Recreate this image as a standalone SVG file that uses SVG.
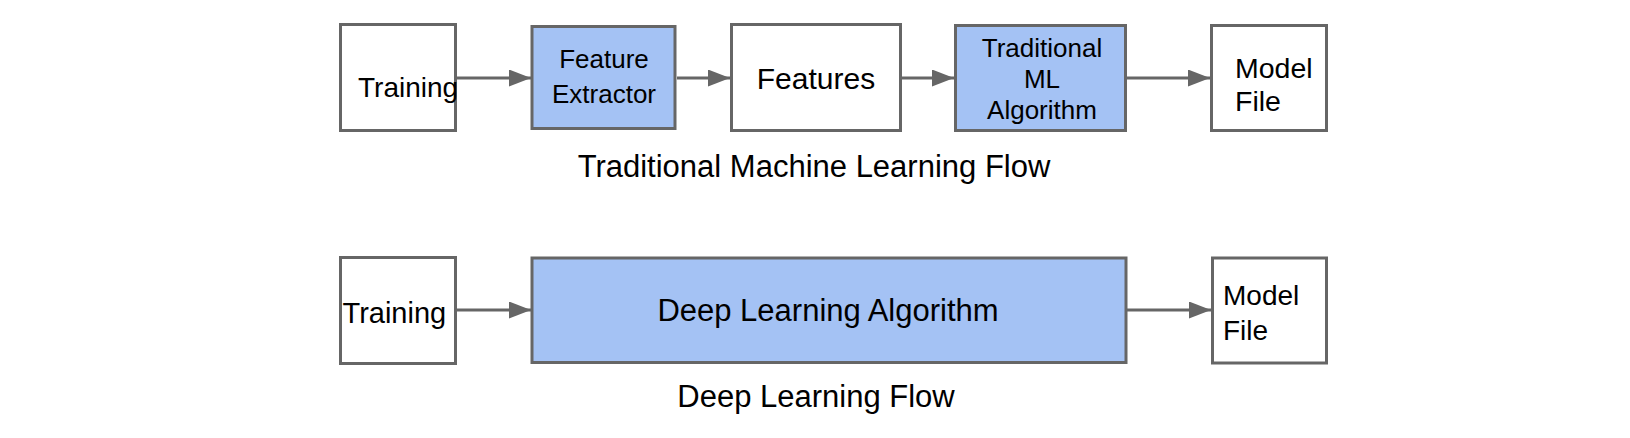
<svg xmlns="http://www.w3.org/2000/svg" width="1630" height="438" viewBox="0 0 1630 438">
<style>
.box{fill:#ffffff;stroke:#666666;stroke-width:3}
.blue{fill:#a4c2f4;stroke:#666666;stroke-width:3}
.t{font-family:"Liberation Sans",Arial,sans-serif;fill:#000000}
.c{text-anchor:middle}
.edge{stroke:#666666;stroke-width:3;fill:none}
</style>
<defs>
<marker id="ah" markerUnits="userSpaceOnUse" markerWidth="24" markerHeight="18" refX="22" refY="8.5" orient="auto">
<path d="M0,0 L22,8.5 L0,17 Z" fill="#666666"/>
</marker>
</defs>
<rect width="1630" height="438" fill="#ffffff"/>
<g id="connectors">
<line class="edge" x1="457" y1="78" x2="531" y2="78" marker-end="url(#ah)"/>
<line class="edge" x1="677" y1="78" x2="730" y2="78" marker-end="url(#ah)"/>
<line class="edge" x1="902" y1="78" x2="954" y2="78" marker-end="url(#ah)"/>
<line class="edge" x1="1127" y1="78" x2="1210" y2="78" marker-end="url(#ah)"/>
<line class="edge" x1="457" y1="310" x2="531" y2="310" marker-end="url(#ah)"/>
<line class="edge" x1="1127" y1="310" x2="1211" y2="310" marker-end="url(#ah)"/>
</g>
<g id="training1">
<rect class="box" x="340.5" y="24.5" width="115" height="106"/>
<text class="t" x="358" y="97" font-size="28">Training</text>
</g>
<g id="feature-extractor">
<rect class="blue" x="532" y="26.5" width="143" height="102"/>
<text class="t c" x="604" y="68" font-size="26">Feature</text>
<text class="t c" x="604" y="103" font-size="26">Extractor</text>
</g>
<g id="features">
<rect class="box" x="731.5" y="24.5" width="169" height="106"/>
<text class="t c" x="816" y="89" font-size="30">Features</text>
</g>
<g id="traditional-ml">
<rect class="blue" x="955.5" y="25.5" width="170" height="105"/>
<text class="t c" x="1042" y="57" font-size="26">Traditional</text>
<text class="t c" x="1042" y="88" font-size="26">ML</text>
<text class="t c" x="1042" y="119" font-size="26">Algorithm</text>
</g>
<g id="model-file1">
<rect class="box" x="1211.5" y="25.5" width="115" height="105"/>
<text class="t" x="1235" y="78" font-size="28.5">Model</text>
<text class="t" x="1235" y="111" font-size="28.5">File</text>
</g>
<text class="t c" x="814" y="177" font-size="31">Traditional Machine Learning Flow</text>
<g id="training2">
<rect class="box" x="340.5" y="257.5" width="115" height="106"/>
<text class="t" x="342.5" y="323" font-size="29">Training</text>
</g>
<g id="deep-learning">
<rect class="blue" x="532" y="258" width="594" height="104.5"/>
<text class="t c" x="828" y="321" font-size="31">Deep Learning Algorithm</text>
</g>
<g id="model-file2">
<rect class="box" x="1212.5" y="258" width="114" height="105"/>
<text class="t" x="1223" y="305" font-size="28">Model</text>
<text class="t" x="1223" y="340" font-size="28">File</text>
</g>
<text class="t c" x="816" y="407" font-size="31">Deep Learning Flow</text>
</svg>
